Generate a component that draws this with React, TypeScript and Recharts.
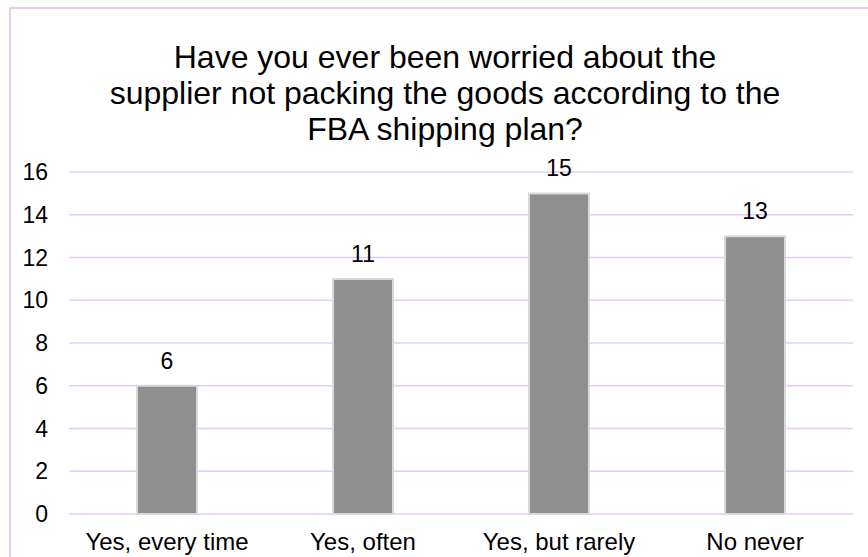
import { BarChart, Bar, XAxis, YAxis, CartesianGrid, LabelList } from "recharts";

const categories = ["Yes, every time", "Yes, often", "Yes, but rarely", "No never"];
const counts = [6, 11, 15, 13];
const yTicks = [0, 2, 4, 6, 8, 10, 12, 14, 16];
const titleLines = [
  "Have you ever been worried about the",
  "supplier not packing the goods according to the",
  "FBA shipping plan?",
];

const data = categories.map((name, i) => ({ name, value: counts[i] }));

const FONT = '"Liberation Sans", Arial, sans-serif';
const LAVENDER = "#e6cbf7";

const App = () => (
  <div style={{ position: "absolute", left: 0, top: 0, width: 868, height: 557, overflow: "hidden", background: "#fff", fontFamily: FONT }}>
    {/* frame that runs off the right and bottom edges */}
    <div
      style={{
        position: "absolute",
        left: 9,
        top: 7,
        width: 900,
        height: 600,
        border: `2px solid ${LAVENDER}`,
      }}
    />
    <div
      style={{
        position: "absolute",
        left: 0,
        top: 39,
        width: 890,
        textAlign: "center",
        fontSize: 32,
        lineHeight: "36px",
        color: "#000",
      }}
    >
      {titleLines.map((t) => (
        <div key={t}>{t}</div>
      ))}
    </div>
    <div style={{ position: "absolute", left: 0, top: 0 }}>
      <BarChart
        width={868}
        height={557}
        data={data}
        margin={{ top: 172, right: 15, bottom: 0, left: 10 }}
        barSize={60}
      >
        <CartesianGrid vertical={false} stroke={LAVENDER} strokeWidth={1.5} />
        <XAxis
          dataKey="name"
          axisLine={false}
          tickLine={false}
          tickSize={0}
          tickMargin={19}
          height={43}
          interval={0}
          tick={{ fill: "#000", fontSize: 24, fontFamily: FONT }}
        />
        <YAxis
          domain={[0, 16]}
          ticks={yTicks}
          axisLine={false}
          tickLine={false}
          tickSize={0}
          tickMargin={21}
          width={59}
          tick={{ fill: "#000", fontSize: 23, fontFamily: FONT }}
        />
        <Bar dataKey="value" fill="#8f8f8f" stroke="#d9d9d9" strokeWidth={2} isAnimationActive={false}>
          <LabelList dataKey="value" position="top" offset={17} fill="#000" fontSize={23} fontFamily={FONT} />
        </Bar>
      </BarChart>
    </div>
  </div>
);

export default App;
